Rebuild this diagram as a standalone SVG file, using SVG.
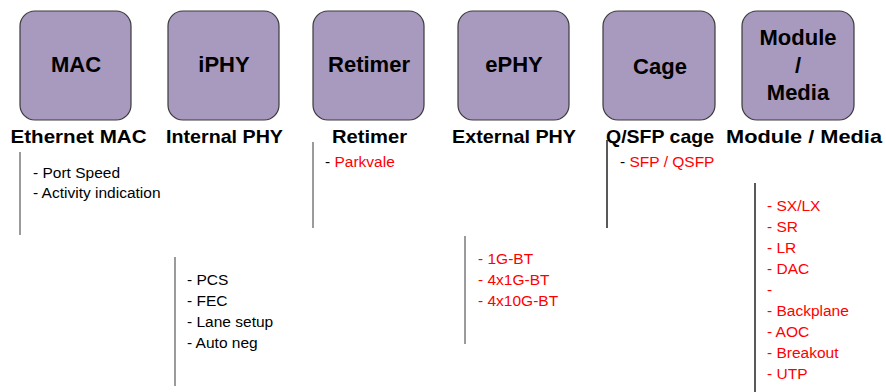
<svg xmlns="http://www.w3.org/2000/svg" width="886" height="392" viewBox="0 0 886 392">
<style>
.box{fill:#A899BF;stroke:#3a3a3a;stroke-width:1.2}
.bt{font-family:"Liberation Sans",Arial,sans-serif;font-weight:bold;font-size:22px;fill:#000;text-anchor:middle}
.lb{font-family:"Liberation Sans",Arial,sans-serif;font-weight:bold;font-size:19px;fill:#000;text-anchor:middle}
.li{font-family:"Liberation Sans",Arial,sans-serif;font-size:15.5px;fill:#000}
.red{fill:#FF0000}
.g{stroke:#7a7a7a;stroke-width:1.5;fill:none}
.k{stroke:#222;stroke-width:1.5;fill:none}
</style>
<rect width="886" height="392" fill="#fff"/>
<g id="mac">
<rect class="box" x="20" y="11" width="111" height="109" rx="15"/>
<text class="bt" x="76" y="72">MAC</text>
<text class="lb" x="78.5" y="143" textLength="136" lengthAdjust="spacingAndGlyphs">Ethernet MAC</text>
<text class="li" x="33" y="178">- Port Speed</text>
<text class="li" x="33" y="198">- Activity indication</text>
</g>
<g id="iphy">
<rect class="box" x="168" y="11" width="111" height="109" rx="15"/>
<text class="bt" x="224" y="72">iPHY</text>
<text class="lb" x="224.5" y="143" textLength="117" lengthAdjust="spacingAndGlyphs">Internal PHY</text>
<text class="li" x="187" y="285">- PCS</text>
<text class="li" x="187" y="306">- FEC</text>
<text class="li" x="187" y="327">- Lane setup</text>
<text class="li" x="187" y="348">- Auto neg</text>
</g>
<g id="retimer">
<rect class="box" x="313" y="11" width="111" height="109" rx="15"/>
<text class="bt" x="369" y="72">Retimer</text>
<text class="lb" x="369.5" y="143" textLength="75" lengthAdjust="spacingAndGlyphs">Retimer</text>
<text class="li" x="325" y="167">- <tspan class="red">Parkvale</tspan></text>
</g>
<g id="ephy">
<rect class="box" x="458" y="11" width="111" height="109" rx="15"/>
<text class="bt" x="514" y="72">ePHY</text>
<text class="lb" x="514" y="143" textLength="124" lengthAdjust="spacingAndGlyphs">External PHY</text>
<text class="li red" x="478" y="264">- 1G-BT</text>
<text class="li red" x="478" y="285">- 4x1G-BT</text>
<text class="li red" x="478" y="306">- 4x10G-BT</text>
</g>
<g id="cage">
<rect class="box" x="603" y="11" width="112" height="109" rx="15"/>
<text class="bt" x="660" y="74">Cage</text>
<text class="lb" x="660" y="143" textLength="108" lengthAdjust="spacingAndGlyphs">Q/SFP cage</text>
<text class="li" x="620" y="167">- <tspan class="red">SFP / QSFP</tspan></text>
</g>
<g id="module">
<rect class="box" x="742" y="11" width="112" height="109" rx="15"/>
<text class="bt" x="798" y="45">Module</text>
<text class="bt" x="798" y="73">/</text>
<text class="bt" x="798" y="100">Media</text>
<text class="lb" x="804" y="143" textLength="156" lengthAdjust="spacingAndGlyphs">Module / Media</text>
<text class="li red" x="767" y="211">- SX/LX</text>
<text class="li red" x="767" y="232">- SR</text>
<text class="li red" x="767" y="253">- LR</text>
<text class="li red" x="767" y="274">- DAC</text>
<text class="li red" x="767" y="295">-</text>
<text class="li red" x="767" y="316">- Backplane</text>
<text class="li red" x="767" y="337">- AOC</text>
<text class="li red" x="767" y="358">- Breakout</text>
<text class="li red" x="767" y="379">- UTP</text>
</g>
<g id="connectors">
<line class="g" x1="20" y1="152" x2="20" y2="235"/>
<line class="g" x1="175" y1="257" x2="175" y2="386"/>
<line class="g" x1="313" y1="142" x2="313" y2="228"/>
<line class="g" x1="465" y1="236" x2="465" y2="344"/>
<line class="k" x1="607" y1="140" x2="607" y2="228"/>
<line class="k" x1="755" y1="183" x2="755" y2="392"/>
</g>
</svg>
